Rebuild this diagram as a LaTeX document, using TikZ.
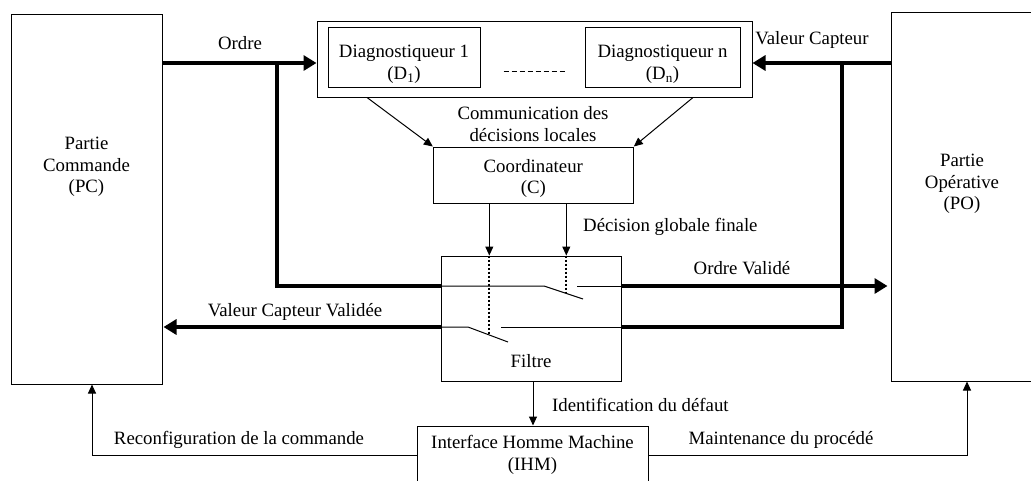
\documentclass[tikz,border=0pt]{standalone}
\usepackage{fontspec}
\setmainfont{Liberation Serif}
\usetikzlibrary{arrows.meta,calc,positioning}

\begin{document}
\begin{tikzpicture}[
      x=1pt, y=-1pt,
      font=\fontsize{18.8pt}{21.5pt}\selectfont,
      box/.style={draw, line width=1pt, inner sep=0pt},
      lbl/.style={align=center, inner sep=0pt},
      arr/.style={-{Triangle[length=9pt,width=8pt]}, line width=1pt},
      big/.style={line width=4.5pt},
      bigarr/.style={big, -{Triangle[length=13pt,width=15pt]}},
      ctrl/.style={line width=2pt, dash pattern=on 2pt off 2pt},
      sw/.style={line width=1pt}
    ]
    \useasboundingbox (0,0) rectangle (1031,480);

    % Partie commande / partie operative
    \node (pc) [box, minimum width=151pt, minimum height=370pt] at (86.5,199) {};
    \node (po) [box, minimum width=142pt, minimum height=369pt] at (962,196.5) {};
    \node (pclbl) [lbl] at (86.5,167) {Partie\\Commande\\(PC)};
    \node (polbl) [lbl] at (962,184) {Partie\\Opérative\\(PO)};

    % Diagnostiqueurs
    \node (diag) [box, minimum width=435pt, minimum height=76pt] at (534.5,59) {};
    \node (d1)   [box, minimum width=152pt, minimum height=60pt] at (404,57) {};
    \node (dn)   [box, minimum width=155pt, minimum height=60pt] at (662.5,57) {};
    \node (d1lbl) [lbl] at (404,64.5)   {Diagnostiqueur 1\\(D\textsubscript{1})};
    \node (dnlbl) [lbl] at (662.5,64.5) {Diagnostiqueur n\\(D\textsubscript{n})};
    \draw[line width=1pt, dash pattern=on 5pt off 3pt]
      ([xshift=23pt,yshift=-14pt]d1.east) -- ([xshift=-18pt,yshift=-14pt]dn.west);

    % Coordinateur, filtre, IHM
    \node (coord)  [box, minimum width=200pt, minimum height=56pt] at (533.3,175) {};
    \node (filtre) [box, minimum width=180pt, minimum height=125pt] at (531,318.5) {};
    \node (ihm)    [box, minimum width=231pt, minimum height=58pt] at (532.5,455) {};
    \node (coordlbl)  [lbl] at (533.3,178.5) {Coordinateur\\(C)};
    \node (filtrelbl) [lbl] at (531,361.5)   {Filtre};
    \node (ihmlbl)    [lbl] at (532.5,455)   {Interface Homme Machine\\(IHM)};

    % Points of the thick lines
    \coordinate (jo)  at (277,63);
    \coordinate (jv)  at (842,63);
    \coordinate (r1w) at (441,286);
    \coordinate (r1e) at (621,286);
    \coordinate (r2w) at (441,327);
    \coordinate (r2e) at (621,327);

    % Thick arrows
    \draw[bigarr] (pc.east |- jo) -- (diag.west |- jo);
    \draw[big]    (jo) |- (r1w);
    \draw[bigarr] (r1e) -- ([xshift=-3pt]po.west |- r1e);
    \draw[bigarr] (po.west |- jv) -- (diag.east |- jv);
    \draw[big]    (r2e) -| (jv);
    \draw[bigarr] (r2w) -- ([xshift=1pt]pc.east |- r2w);

    % Switches in the filter
    \draw[sw] (r1w) -- (544,286) -- (583,299);
    \draw[sw] (577,286) -- (r1e);
    \draw[sw] (r2w) -- (468,327) -- (508,342);
    \draw[sw] (501,327) -- (r2e);
    \draw[ctrl] ([xshift=-44pt]coord.south |- filtre.north) -- ++(0,79);
    \draw[ctrl] ([xshift=33pt]coord.south |- filtre.north) -- ++(0,37);

    % Thin arrows
    \draw[arr] ([xshift=-167.5pt]diag.south) -- (coord.north west);
    \draw[arr] ([xshift=158.5pt]diag.south)  -- (coord.north east);
    \draw[arr] ([xshift=-44pt]coord.south) -- ([xshift=-44pt]coord.south |- filtre.north);
    \draw[arr] ([xshift=33pt]coord.south)  -- ([xshift=33pt]coord.south |- filtre.north);
    \draw[arr] ([xshift=2pt]filtre.south) -- ([xshift=2pt]filtre.south |- ihm.north);
    \draw[arr] (ihm.west) -| ([xshift=5.5pt]pc.south);
    \draw[arr] (ihm.east) -| ([xshift=5pt]po.south);

    % Labels
    \node (ordre)   [lbl] at (240,43.5) {Ordre};
    \node (valeur)  [lbl] at (812,40)   {Valeur Capteur};
    \node (comm)    [lbl] at (533,124)  {Communication des\\décisions locales};
    \node (decis)   [lbl, anchor=west] at (583,227) {Décision globale finale};
    \node (ordrev)  [lbl] at (742,268.5) {Ordre Validé};
    \node (valeurv) [lbl] at (295,311.5) {Valeur Capteur Validée};
    \node (ident)   [lbl, anchor=west] at (552,405) {Identification du défaut};
    \node (reconf)  [lbl] at (239,440)  {Reconfiguration de la commande};
    \node (maint)   [lbl] at (781,440)  {Maintenance du procédé};
  \end{tikzpicture}
\end{document}
